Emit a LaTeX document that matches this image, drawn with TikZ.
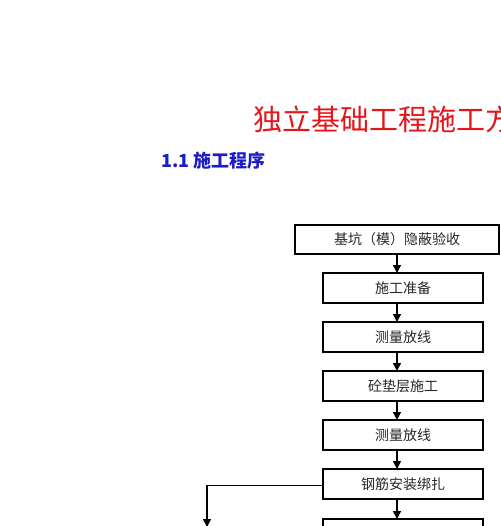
\documentclass[tikz,border=0pt]{standalone}
\usepackage{fontspec}
\setmainfont{Noto Sans CJK SC}
\usetikzlibrary{positioning, arrows.meta}
\definecolor{titlered}{RGB}{228,22,28}
\definecolor{headblue}{RGB}{28,28,200}

\begin{document}
\begin{tikzpicture}[
    x=1pt, y=-1pt,
    node distance=19pt,
    box/.style={
        rectangle,
        draw=black, line width=1.6pt,
        align=center,
        minimum width=160pt,
        minimum height=30pt,
        inner sep=0pt, outer sep=0pt,
        text=black!85,
        font=\fontsize{14}{16}\selectfont
    },
    flow/.style={
        -{Triangle[length=8pt,width=8pt]},
        line width=1.5pt
    }
]
\useasboundingbox (0,0) rectangle (500,526);
\clip (0,0) rectangle (500,526);

% Heading
\node[anchor=west,inner sep=0pt,text=titlered,font=\fontsize{29}{32}\selectfont] (title)
    at (253,119) {独立基础工程施工方};
\node[anchor=west,inner sep=0pt,text=headblue,font=\bfseries\fontsize{18}{20}\selectfont] (sub)
    at (161,161) {1.1 施工程序};

% Flow
\node[box,minimum width=204pt,minimum height=29pt] (check) at (397,239.5) {基坑（模）隐蔽验收};
\node[box,below=of check,xshift=6pt] (prep) {施工准备};
\node[box,below=of prep] (survey) {测量放线};
\node[box,below=of survey] (cushion) {砼垫层施工};
\node[box,below=of cushion] (resurvey) {测量放线};
\node[box,below=of resurvey] (rebar) {钢筋安装绑扎};
\node[box,below=of rebar,yshift=-1pt] (next) {};

\draw[flow] (check.south) -- (prep.north -| check.south);
\draw[flow] (prep.south -| check.south) -- (survey.north -| check.south);
\draw[flow] (survey.south -| check.south) -- (cushion.north -| check.south);
\draw[flow] (cushion.south -| check.south) -- (resurvey.north -| check.south);
\draw[flow] (resurvey.south -| check.south) -- (rebar.north -| check.south);
\draw[flow] (rebar.south -| check.south) -- (next.north -| check.south);

% Branch
\coordinate (branch) at (207,485);
\coordinate (branchend) at (207,527);
\draw[line width=0.8pt] (rebar.west |- branch) -- (branch);
\draw[flow] (branch) -- (branchend);

\end{tikzpicture}
\end{document}
